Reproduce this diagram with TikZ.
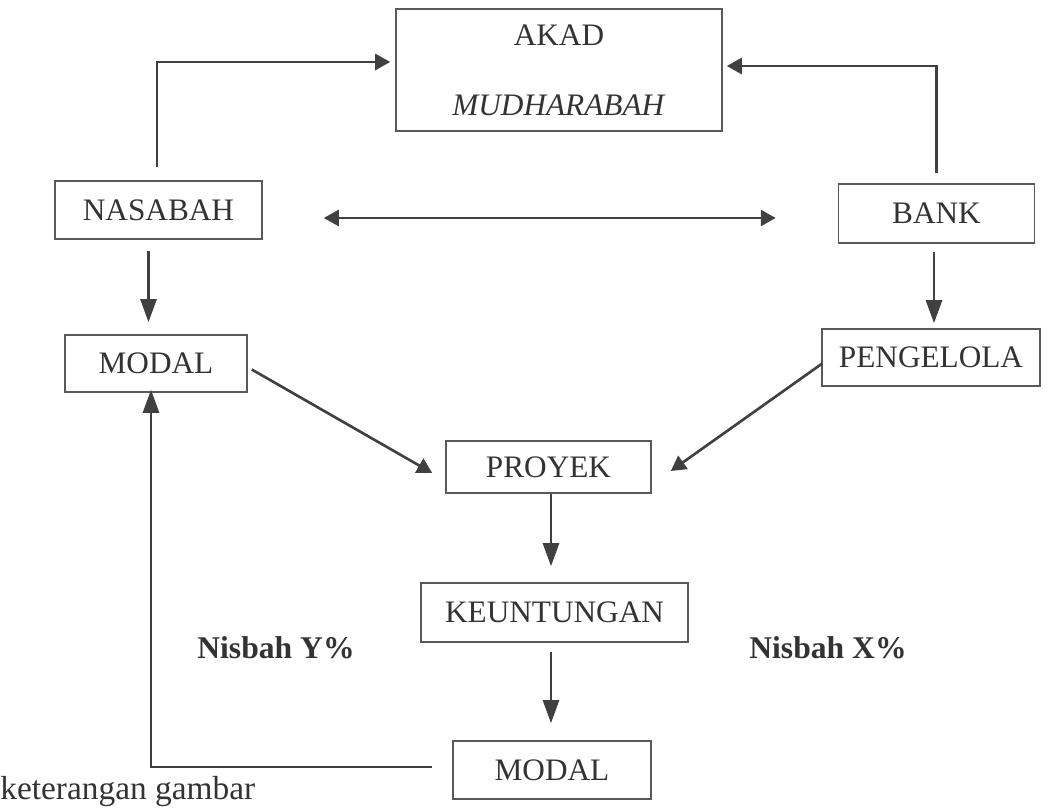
\documentclass[tikz,border=0pt]{standalone}
\usepackage{fontspec}
\setmainfont{Liberation Serif}
\usetikzlibrary{arrows.meta}

\begin{document}
\begin{tikzpicture}[x=0.02cm, y=-0.02cm,
    box/.style={draw=black!65, line width=0.9pt, inner sep=0pt, text=black!80, font=\fontsize{17.8}{21}\selectfont},
    flow/.style={draw=black!75, line width=1.5pt, -{Triangle[length=0.3cm, width=0.32cm]}},
    flowv/.style={flow, -{Triangle[length=0.46cm, width=0.32cm]}},
    lbl/.style={text=black!80, font=\fontsize{18}{21}\selectfont}]

    \useasboundingbox (0,0) rectangle (1048,810);

    % Boxes
    \node[box, minimum width=6.52cm, minimum height=2.44cm, align=center,
          font=\fontsize{17.8}{39.8}\selectfont] (akad) at (559,70) {AKAD\\\textit{MUDHARABAH}};
    \node[box, minimum width=4.14cm, minimum height=1.16cm] (nasabah) at (158.5,210) {NASABAH};
    \node[box, minimum width=3.92cm, minimum height=1.18cm] (bank) at (936.5,213.5) {BANK};
    \node[box, minimum width=3.64cm, minimum height=1.14cm] (modal) at (156,363.5) {MODAL};
    \node[box, minimum width=4.36cm, minimum height=1.14cm] (pengelola) at (931,357.5) {PENGELOLA};
    \node[box, minimum width=4.1cm, minimum height=1.04cm] (proyek) at (548.5,467) {PROYEK};
    \node[box, minimum width=5.34cm, minimum height=1.18cm] (untung) at (554.5,612.5) {KEUNTUNGAN};
    \node[box, minimum width=3.96cm, minimum height=1.16cm] (modalb) at (552,770) {MODAL};

    % Labels
    \node[lbl] (nisbahy) at (276,648) {\textbf{Nisbah Y\%}};
    \node[lbl] (nisbahx) at (828,648) {\textbf{Nisbah X\%}};
    \node[lbl, anchor=west, inner sep=0pt, font=\fontsize{19}{21}\selectfont] (ket) at (0,792) {keterangan gambar};

    % Arrows to the akad
    \draw[flow, shorten >=0.1cm] ([xshift=-0.03cm, yshift=0.26cm]nasabah.north) |- ([yshift=0.16cm]akad.west);
    \draw[flow, shorten >=0.08cm] ([yshift=0.2cm]bank.north) |- ([yshift=0.08cm]akad.east);
    \draw[flow, {Triangle[length=0.3cm, width=0.32cm]}-{Triangle[length=0.3cm, width=0.32cm]},
          shorten <=1.22cm, shorten >=1.24cm] ([yshift=-0.16cm]nasabah.east) -- ([yshift=-0.16cm]nasabah.east -| bank.west);

    % Down the sides
    \draw[flowv, shorten <=0.22cm, shorten >=0.24cm] ([xshift=-0.2cm]nasabah.south) -- ([xshift=-0.2cm]nasabah.south |- modal.north);
    \draw[flowv, shorten <=0.16cm, shorten >=0.1cm] ([xshift=-0.05cm]bank.south) -- ([xshift=-0.05cm]bank.south |- pengelola.north);

    % Into the proyek
    \draw[flow] ([shift={(4,6)}]modal.east) -- ([shift={(-13,6)}]proyek.west);
    \draw[flow] ([shift={(1,6)}]pengelola.west) -- ([shift={(19,4)}]proyek.east);

    % Down the middle
    \draw[flowv, shorten >=0.32cm] ([xshift=0.05cm]proyek.south) -- ([xshift=0.05cm]proyek.south |- untung.north);
    \draw[flowv, shorten <=0.18cm, shorten >=0.34cm] ([xshift=-0.07cm]untung.south) -- ([xshift=-0.07cm]untung.south |- modalb.north);

    % Back to the modal
    \draw[flowv] ([shift={(-20,-3)}]modalb.west) -| ([shift={(-5,-3)}]modal.south);

\end{tikzpicture}
\end{document}
